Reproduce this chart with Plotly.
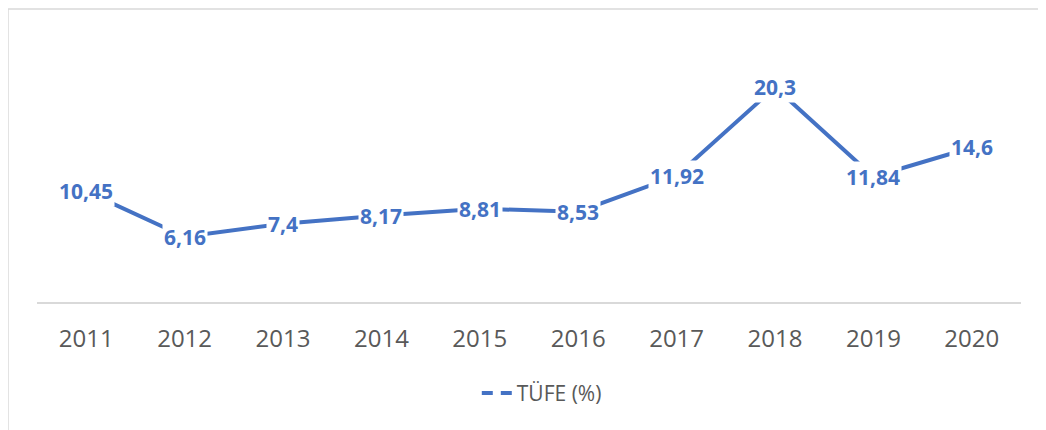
import plotly.graph_objects as go

years = ["2011", "2012", "2013", "2014", "2015", "2016", "2017", "2018", "2019", "2020"]
tufe = [10.45, 6.16, 7.4, 8.17, 8.81, 8.53, 11.92, 20.3, 11.84, 14.6]
labels = ["10,45", "6,16", "7,4", "8,17", "8,81", "8,53", "11,92", "20,3", "11,84", "14,6"]
series_name = "TÜFE (%)"

BLUE = "#4472C4"
GRAY = "#595959"

fig = go.Figure()
fig.add_trace(go.Scatter(
    x=years, y=tufe, mode="lines",
    line=dict(color=BLUE, width=4),
    showlegend=False, hoverinfo="skip",
))
# legend entry (dashed sample as in reference)
fig.add_trace(go.Scatter(
    x=[None], y=[None], mode="lines", name=series_name,
    line=dict(color=BLUE, width=4, dash="11px,8px"),
    showlegend=True,
))

for i, (y, t) in enumerate(zip(tufe, labels)):
    fig.add_annotation(
        x=i, y=y, text=t, showarrow=False,
        font=dict(family="Open Sans", size=21, color=BLUE, weight="bold"),
        bgcolor="white", borderpad=1,
        xanchor="center", yanchor="middle",
    )

# chart border (top and left visible)
fig.add_shape(type="line", xref="paper", yref="paper",
              x0=-0.0295, x1=1.2, y0=1.1535, y1=1.1535,
              line=dict(color="#D9D9D9", width=1.5))
fig.add_shape(type="line", xref="paper", yref="paper",
              x0=-0.0295, x1=-0.0295, y0=-1, y1=1.1535,
              line=dict(color="#D9D9D9", width=1.5))

fig.update_layout(
    width=1046, height=430,
    margin=dict(l=29, r=33, t=40, b=136),
    paper_bgcolor="white", plot_bgcolor="white",
    font=dict(family="Open Sans", color=GRAY),
    showlegend=True,
    legend=dict(orientation="h", x=0.513, xanchor="center", y=-0.36, yanchor="middle",
                font=dict(family="Open Sans", size=21, color=GRAY)),
    xaxis=dict(
        type="category", range=[-0.5, 9.5],
        showline=True, linecolor="#D9D9D9", linewidth=1.5,
        showgrid=False, zeroline=False,
        ticks="outside", ticklen=14, tickcolor="rgba(0,0,0,0)",
        tickfont=dict(family="Open Sans", size=24, color=GRAY),
    ),
    yaxis=dict(range=[0, 24], visible=False, showgrid=False, zeroline=False),
)

fig.write_html("out.html")
